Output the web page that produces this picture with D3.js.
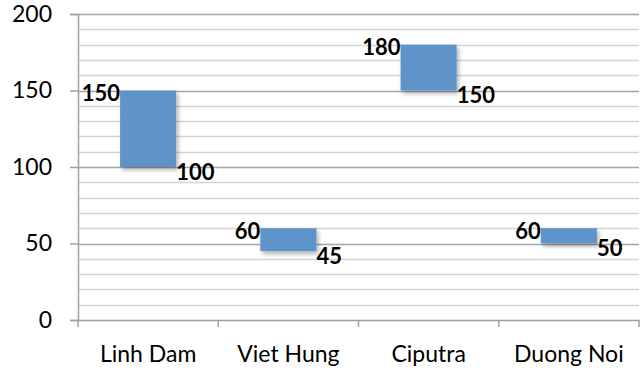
<!DOCTYPE html>
<html><head><meta charset="utf-8">
<script src="https://cdn.jsdelivr.net/npm/d3@7"></script>
<style>body{margin:0;background:#fff}svg{display:block}</style>
</head><body>
<svg id="c" width="642" height="374"></svg>
<script>
const categories = ["Linh Dam", "Viet Hung", "Ciputra", "Duong Noi"];
const lowValues = [100, 45, 150, 50];
const highValues = [150, 60, 180, 60];
const yTicks = [0, 50, 100, 150, 200];

(function () {
const svg = d3.select("#c");
const mLeft = 78, mRight = 639, mTop = 14, mBottom = 320;
const font = "Lato, 'Open Sans', sans-serif";

const x = d3.scaleBand().domain(categories).range([mLeft, mRight]).paddingInner(0).paddingOuter(0);
const y = d3.scaleLinear().domain([0, 200]).range([mBottom, mTop]);

const defs = svg.append("defs");
const f = defs.append("filter").attr("id","sh").attr("x","-20%").attr("y","-20%").attr("width","150%").attr("height","150%");
f.append("feDropShadow").attr("dx",2).attr("dy",3).attr("stdDeviation",2).attr("flood-color","#000").attr("flood-opacity",0.3);

// minor gridlines
svg.append("g").selectAll("line").data(d3.range(10, 201, 10).filter(v => v % 50 !== 0))
  .join("line").attr("x1", mLeft).attr("x2", mRight)
  .attr("y1", d => Math.round(y(d)) + 0.5).attr("y2", d => Math.round(y(d)) + 0.5)
  .attr("stroke", "#d4d4d4").attr("stroke-width", 1.5);
// major gridlines
svg.append("g").selectAll("line").data(yTicks.filter(v => v > 0))
  .join("line").attr("x1", mLeft).attr("x2", mRight)
  .attr("y1", d => Math.round(y(d)) + 0.5).attr("y2", d => Math.round(y(d)) + 0.5)
  .attr("stroke", "#a6a6a6").attr("stroke-width", 1.5);

// y axis
const ya = svg.append("g").attr("transform", `translate(${mLeft},0)`)
  .call(d3.axisLeft(y).tickValues(yTicks).tickSize(8).tickPadding(18));
ya.select(".domain").attr("stroke", "#a0a0a0").attr("stroke-width", 1.5);
ya.selectAll(".tick line").attr("stroke", "#a0a0a0").attr("stroke-width", 1.5);
ya.selectAll("text").attr("font-family", font).attr("font-size", 23).attr("fill", "#000");

// x axis
const xa = svg.append("g").attr("transform", `translate(0,${mBottom})`)
  .call(d3.axisBottom(x).tickSize(0).tickPadding(26));
xa.select(".domain").attr("stroke", "#a0a0a0").attr("stroke-width", 1.5);
xa.selectAll("text").attr("font-family", font).attr("font-size", 23).attr("fill", "#000");
// category boundary ticks
const bounds = categories.map(c => x(c)).concat([mRight]);
svg.append("g").selectAll("line").data(bounds).join("line")
  .attr("x1", d => d).attr("x2", d => d).attr("y1", mBottom).attr("y2", mBottom + 7)
  .attr("stroke", "#a0a0a0").attr("stroke-width", 1.5);

// bars
const bw = x.bandwidth() * 0.4;
const data = categories.map((c, i) => ({c, lo: lowValues[i], hi: highValues[i]}));
svg.append("g").selectAll("rect").data(data).join("rect")
  .attr("x", d => x(d.c) + (x.bandwidth() - bw) / 2)
  .attr("width", bw)
  .attr("y", d => y(d.hi))
  .attr("height", d => y(d.lo) - y(d.hi))
  .attr("fill", "#5f94ca")
  .attr("filter", "url(#sh)");

// labels
const lg = svg.append("g").attr("font-family", font).attr("font-size", 22).attr("font-weight", "bold").attr("fill", "#000");
lg.selectAll("text.hi").data(data).join("text").attr("class","hi")
  .attr("x", d => x(d.c) + (x.bandwidth() - bw) / 2)
  .attr("y", d => y(d.hi) + 2)
  .attr("text-anchor", "end").attr("dominant-baseline", "central")
  .text(d => d.hi);
lg.selectAll("text.lo").data(data).join("text").attr("class","lo")
  .attr("x", d => x(d.c) + (x.bandwidth() + bw) / 2)
  .attr("y", d => y(d.lo) + 4)
  .attr("text-anchor", "start").attr("dominant-baseline", "central")
  .text(d => d.lo);
})();
</script>
</body></html>
